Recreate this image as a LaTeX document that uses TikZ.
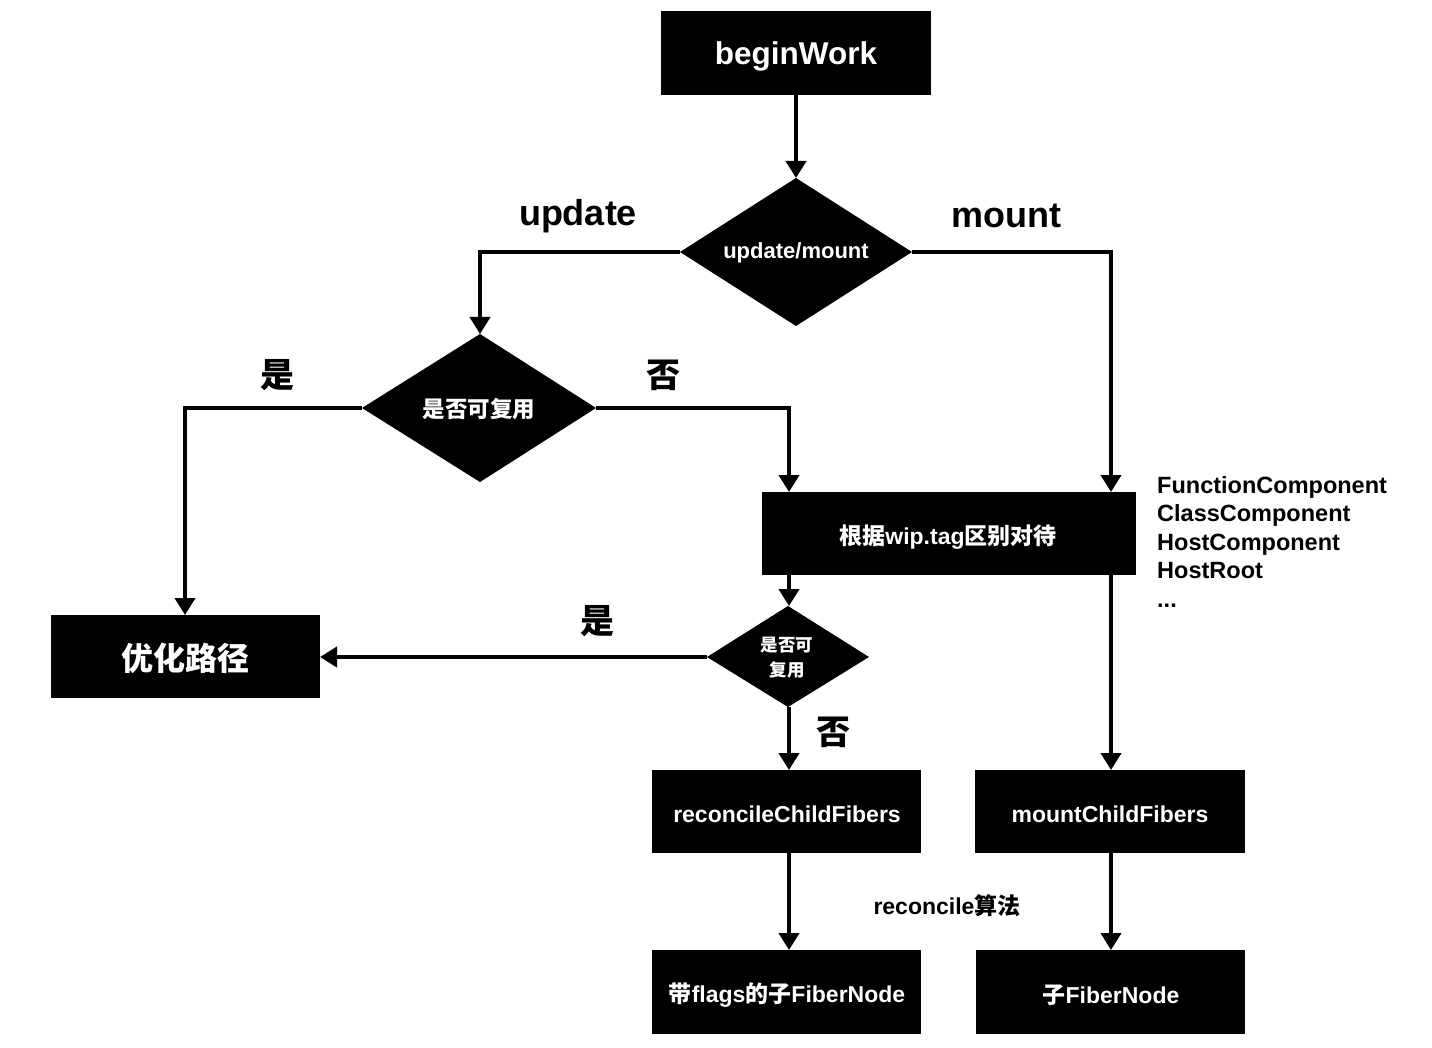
\documentclass[tikz,border=0pt]{standalone}
\usepackage{fontspec}
\setmainfont{Liberation Sans}
\newfontfamily\cjk{Noto Sans CJK SC}
\usetikzlibrary{shapes.geometric,arrows.meta}
\tikzset{
  dia/.style={fill=black,inner sep=0pt},
  wtxt/.style={text=white,font=\bfseries,inner sep=0pt},
  btxt/.style={text=black,font=\bfseries,inner sep=0pt},
  conn/.style={line width=4pt,-{Triangle[width=20pt,length=17pt]}}
}
\begin{document}
\begin{tikzpicture}[x=1pt,y=-1pt]
\useasboundingbox (0,0) rectangle (1432,1048);
\fill[white] (0,0) rectangle (1432,1048);
% boxes
\fill (661,11) rectangle (931,95);
\node[wtxt,font=\bfseries\fontsize{31.5}{36}\selectfont] (bw) at (796,56) {beginWork};
\coordinate (bwS) at (796,95);
% diamond 1
\fill (796,178) -- (912,252) -- (796,326) -- (680,252) -- cycle;
\coordinate (d1N) at (796,178);
\coordinate (d1W) at (680,252);
\coordinate (d1E) at (912,252);
\node[wtxt,font=\bfseries\fontsize{22}{26}\selectfont] (d1) at (796,253) {update/mount};
% diamond 2
\fill (480,334) -- (596,408) -- (480,482) -- (362,408) -- cycle;
\coordinate (d2N) at (480,334);
\coordinate (d2W) at (362,408);
\coordinate (d2E) at (596,408);
\node[wtxt,font=\cjk\bfseries\fontsize{22.5}{26}\selectfont] (d2) at (479,409) {是否可复用};
% tag box
\fill (762,492) rectangle (1136,575);
\node[wtxt,font=\bfseries\fontsize{23}{28}\selectfont] (tag) at (948,537) {{\cjk 根据}wip.tag{\cjk 区别对待}};
\coordinate (tagNL) at (789,492);
\coordinate (tagNR) at (1111,492);
\coordinate (tagSL) at (789,575);
\coordinate (tagSR) at (1111,575);
% diamond 3
\fill (788,606) -- (869,657) -- (788,707) -- (707,657) -- cycle;
\coordinate (d3N) at (789,606);
\coordinate (d3W) at (707,657);
\coordinate (d3S) at (789,707);
\node[wtxt,font=\cjk\bfseries\fontsize{17.5}{25}\selectfont,align=center] (d3) at (787,658) {是否可\\复用};
% opt box
\fill (51,615) rectangle (320,698);
\node[wtxt,font=\cjk\bfseries\fontsize{32}{36}\selectfont] (opt) at (185,658) {优化路径};
\coordinate (optN) at (185,615);
\coordinate (optE) at (320,657);
% reconcile / mount boxes
\fill (652,770) rectangle (921,853);
\node[wtxt,font=\bfseries\fontsize{23}{28}\selectfont] (rcf) at (787,814) {reconcileChildFibers};
\fill (975,770) rectangle (1245,853);
\node[wtxt,font=\bfseries\fontsize{23}{28}\selectfont] (mcf) at (1110,814) {mountChildFibers};
\coordinate (rcfN) at (789,770);
\coordinate (rcfS) at (789,853);
\coordinate (mcfN) at (1111,770);
\coordinate (mcfS) at (1111,853);
% bottom boxes
\fill (652,950) rectangle (921,1034);
\node[wtxt,font=\bfseries\fontsize{23}{28}\selectfont] (fl) at (787,995) {{\cjk 带}flags{\cjk 的子}FiberNode};
\fill (976,950) rectangle (1245,1034);
\node[wtxt,font=\bfseries\fontsize{23}{28}\selectfont] (ch) at (1111,995) {{\cjk 子}FiberNode};
\coordinate (flN) at (789,950);
\coordinate (chN) at (1111,950);
% connectors
\draw[conn] (bwS) -- (d1N);
\draw[conn] (d1W) -| (d2N);
\draw[conn] (d1E) -| (tagNR);
\draw[conn] (d2W) -| (optN);
\draw[conn] (d2E) -| (tagNL);
\draw[conn] (tagSL) -- (d3N);
\draw[conn] (d3W) -- (optE);
\draw[conn] (d3S) -- (rcfN);
\draw[conn] (tagSR) -- (mcfN);
\draw[conn] (rcfS) -- (flN);
\draw[conn] (mcfS) -- (chN);
% labels
\node[btxt,font=\bfseries\fontsize{36}{40}\selectfont] (lu) at (578,216) {update};
\node[btxt,font=\bfseries\fontsize{36}{40}\selectfont] (lm) at (1006,216) {mount};
\node[btxt,font=\cjk\bfseries\fontsize{34}{38}\selectfont] (ly1) at (277,375) {是};
\node[btxt,font=\cjk\bfseries\fontsize{34}{38}\selectfont] (ln1) at (663,375) {否};
\node[btxt,font=\cjk\bfseries\fontsize{34}{38}\selectfont] (ly2) at (597,621) {是};
\node[btxt,font=\cjk\bfseries\fontsize{34}{38}\selectfont] (ln2) at (833,732) {否};
\node[btxt,font=\bfseries\fontsize{23}{28}\selectfont] (alg) at (947,906) {reconcile{\cjk 算法}};
\node[btxt,font=\bfseries\fontsize{23.5}{28.5}\selectfont,align=left,anchor=north west] (list) at (1157,476) {FunctionComponent\\ClassComponent\\HostComponent\\HostRoot\\...};
\end{tikzpicture}
\end{document}
